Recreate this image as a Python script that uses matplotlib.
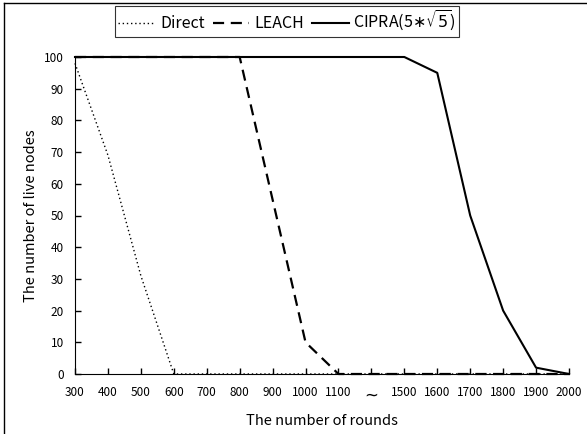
import matplotlib
matplotlib.use("Agg")
import matplotlib.pyplot as plt
from matplotlib.lines import Line2D

plt.rcParams['font.family'] = ['Noto Sans CJK JP', 'DejaVu Sans']

# x positions are categories, with a break between 1100 and 1500
rounds = ["300", "400", "500", "600", "700", "800", "900", "1000", "1100", "~",
          "1500", "1600", "1700", "1800", "1900", "2000"]
direct = [98, 69, 31, 0, 0, 0, 0, 0, 0, 0, 0, 0, 0, 0, 0, 0]
leach = [100, 100, 100, 100, 100, 100, 55, 10, 0, 0, 0, 0, 0, 0, 0, 0]
cipra = [100, 100, 100, 100, 100, 100, 100, 100, 100, 100, 100, 95, 50, 20, 2, 0]

x = list(range(len(rounds)))

fig = plt.figure(figsize=(5.87, 4.34), dpi=100)
ax = fig.add_axes([75 / 587, 60 / 434, 494 / 587, 317 / 434])

l1, = ax.plot(x, direct, color="black", lw=1.0, linestyle=(0, (1, 2)), clip_on=False)
l2, = ax.plot(x, leach, color="black", lw=1.6, linestyle=(0, (5, 3)), clip_on=False)
l3, = ax.plot(x, cipra, color="black", lw=1.5, linestyle="-", clip_on=False)

ax.set_xlim(0, len(rounds) - 1)
ax.set_ylim(0, 100)
ax.set_xticks(x)
ax.set_xticklabels(rounds)
ax.set_yticks(range(0, 101, 10))
ax.spines["top"].set_visible(False)
ax.spines["right"].set_visible(False)
ax.tick_params(direction="in", length=4, width=1, labelsize=8.5, colors="black")
ax.tick_params(axis="x", pad=9)
ax.tick_params(axis="y", pad=8)
# the break mark between 1100 and 1500 is drawn a bit larger
brk = ax.get_xticklabels()[rounds.index("~")]
brk.set_fontsize(12)
brk.set_family("DejaVu Sans")
ax.set_xlabel("The number of rounds", fontsize=10.5)
ax.xaxis.set_label_coords(0.5, -0.125)
ax.set_ylabel("The number of live nodes", fontsize=10.5, labelpad=4)

leg = fig.legend([l1, l2, l3], ["Direct", "LEACH", r"CIPRA(5$\ast\sqrt{5}$)"],
                 loc="center", bbox_to_anchor=(0.489, 0.951), ncol=3,
                 fontsize=11.5, fancybox=False, edgecolor="black",
                 handlelength=2.3, handletextpad=0.3, columnspacing=0.5,
                 borderpad=0.2, borderaxespad=0)
leg.get_frame().set_linewidth(0.8)

# outer frame of the figure (only left and top edges visible)
fig.lines.append(Line2D([4 / 587, 4 / 587], [0, 1 - 3 / 434],
                        transform=fig.transFigure, color="black", lw=1.0))
fig.lines.append(Line2D([4 / 587, 1], [1 - 3 / 434, 1 - 3 / 434],
                        transform=fig.transFigure, color="black", lw=1.0))

fig.savefig("out.png", dpi=100)
